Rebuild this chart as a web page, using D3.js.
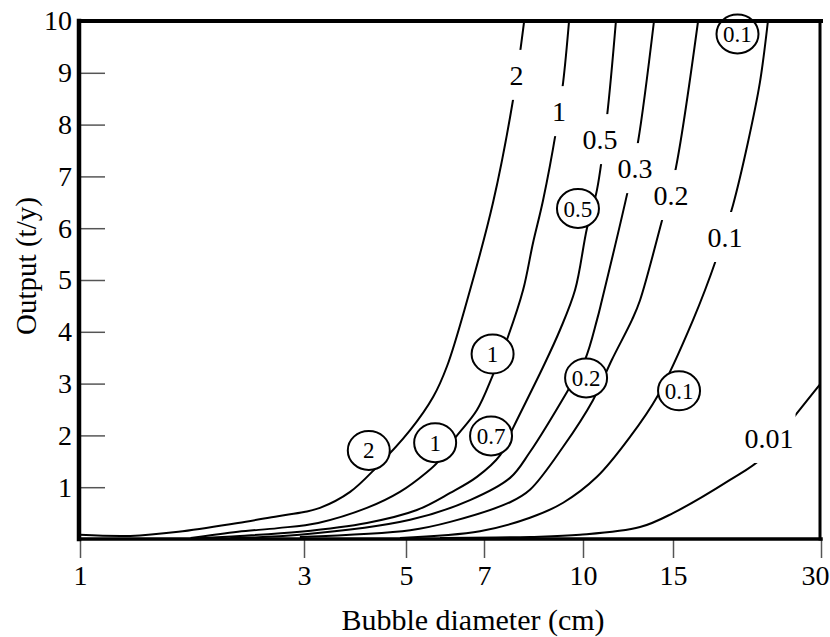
<!DOCTYPE html>
<html><head><meta charset="utf-8">
<script src="https://cdn.jsdelivr.net/npm/d3@7"></script>
<style>
html,body{margin:0;padding:0;background:#fff;}
svg{display:block;font-family:"Liberation Serif","Times New Roman",serif;}
</style></head><body>
<svg id="chart" width="830" height="637"></svg>
<script>
// ---------- data ----------
const xTickValues = [1, 3, 5, 7, 10, 15, 30];
const yTickValues = [1, 2, 3, 4, 5, 6, 7, 8, 9, 10];
const xTitle = "Bubble diameter (cm)";
const yTitle = "Output (t/y)";

const curve_2   = [[1.00,0.08],[1.28,0.06],[1.62,0.14],[2.17,0.31],[2.64,0.44],[3.00,0.52],[3.25,0.60],[3.78,0.91],[4.32,1.39],[5.09,2.10],[5.62,2.74],[5.97,3.34],[6.51,4.61],[7.23,6.49],[7.77,8.47],[8.09,10]];
const curve_1   = [[1.72,0.02],[2.17,0.14],[2.64,0.21],[3.22,0.31],[4.11,0.60],[4.85,0.91],[5.47,1.29],[5.74,1.49],[6.18,1.95],[6.79,2.49],[7.23,3.17],[7.63,3.90],[8.06,4.81],[8.35,5.71],[8.66,6.54],[9.07,7.86],[9.31,8.82],[9.51,10]];
const curve_05  = [[1.80,0.02],[2.19,0.06],[2.94,0.14],[4.11,0.31],[5.24,0.56],[6.05,0.89],[6.79,1.20],[7.42,1.62],[7.77,2.14],[8.66,3.32],[9.20,4.03],[9.72,4.81],[10.18,6.00],[10.65,6.74],[11.14,8.15],[11.60,10]];
const curve_03  = [[2.09,0.02],[2.94,0.08],[5.09,0.37],[6.59,0.75],[7.69,1.18],[8.26,1.68],[9.44,2.84],[10.09,3.46],[10.65,4.23],[10.89,4.61],[12.25,6.74],[12.81,7.66],[13.77,10]];
const curve_02  = [[2.94,0.04],[5.09,0.17],[6.05,0.33],[7.69,0.71],[8.26,0.95],[9.31,1.78],[10.46,2.68],[11.39,3.46],[12.47,4.23],[12.93,4.61],[14.34,6.22],[15.14,7.08],[16.87,10]];
const curve_01  = [[4.85,0.02],[6.88,0.15],[8.26,0.41],[9.31,0.70],[10.65,1.20],[12.36,1.97],[14.03,2.78],[16.48,4.23],[18.35,5.39],[19.87,6.45],[21.31,7.66],[22.54,8.82],[23.40,10]];
const curve_001 = [[5.79,0.02],[8.26,0.04],[9.89,0.08],[12.93,0.23],[15.0,0.50],[19.59,1.14],[22.86,1.58],[26.81,2.43],[30,3.01]];

const curveLabels = ["2", "1", "0.5", "0.3", "0.2", "0.1", "0.01"];
const curveSeries = [curve_2, curve_1, curve_05, curve_03, curve_02, curve_01, curve_001];
// in-line label anchor (data coordinates) for each curve
const labelPos = [[7.87,8.96],[9.17,8.26],[10.80,7.72],[12.64,7.16],[14.87,6.64],[19.14,5.83],[23.52,1.95]];

// circled annotations (data coordinates)
const circleText = ["2", "1", "0.7", "1", "0.5", "0.2", "0.1", "0.1"];
const circlePos  = [[4.15,1.71],[5.67,1.86],[7.18,1.99],[7.22,3.57],[9.82,6.38],[10.14,3.11],[15.43,2.86],[20.29,9.75]];

// ---------- drawing ----------
const svg = d3.select("#chart");
// hand-drawn log axis: piecewise log mapping through the tick positions
const x = d3.scaleLog().domain(xTickValues).range([80, 304, 406, 484, 583, 673, 821]);
const y = d3.scaleLinear().domain([0, 10]).range([539, 21]);

const defs = svg.append("defs");
defs.append("clipPath").attr("id", "plotclip").append("rect")
  .attr("x", x(1)).attr("y", y(10)).attr("width", x(30) - x(1)).attr("height", y(0) - y(10));

// labels first (to measure), then masks
const labelG = svg.append("g").attr("class", "labels");
const labelNodes = curveLabels.map((t, i) =>
  labelG.append("text")
    .attr("x", x(labelPos[i][0])).attr("y", y(labelPos[i][1]))
    .attr("dy", "0.35em").attr("text-anchor", "middle")
    .style("font-size", "28px").text(t));

curveLabels.forEach((t, i) => {
  const bb = labelNodes[i].node().getBBox();
  const cy = y(labelPos[i][1]);
  const m = defs.append("mask").attr("id", "mask" + i)
    .attr("maskUnits", "userSpaceOnUse").attr("x", 0).attr("y", 0).attr("width", 830).attr("height", 637);
  m.append("rect").attr("x", 0).attr("y", 0).attr("width", 830).attr("height", 637).attr("fill", "#fff");
  m.append("rect").attr("x", bb.x - 2).attr("y", cy - 25).attr("width", bb.width + 4).attr("height", 50).attr("fill", "#000");
});

const line = d3.line().x(d => x(d[0])).y(d => y(d[1])).curve(d3.curveCatmullRom.alpha(0.5));
const curvesG = svg.insert("g", ".labels").attr("clip-path", "url(#plotclip)");
curveSeries.forEach((s, i) => {
  curvesG.append("g").attr("mask", `url(#mask${i})`)
    .append("path").attr("d", line(s))
    .attr("fill", "none").attr("stroke", "#000").attr("stroke-width", 2);
});

// circled annotations
const circG = svg.append("g");
circleText.forEach((t, i) => {
  const cx = x(circlePos[i][0]), cy = y(circlePos[i][1]);
  circG.append("ellipse").attr("cx", cx).attr("cy", cy).attr("rx", 21).attr("ry", 19.5)
    .attr("fill", "#fff").attr("stroke", "#000").attr("stroke-width", 2);
  circG.append("text").attr("x", cx).attr("y", cy).attr("dy", "0.35em")
    .attr("text-anchor", "middle").style("font-size", "23px").text(t);
});

// axes
const yAxis = svg.append("g").attr("transform", `translate(${x(1)},0)`)
  .call(d3.axisLeft(y).tickValues(yTickValues).tickSize(-25).tickPadding(8).tickFormat(d3.format("d")));
yAxis.select(".domain").remove();
yAxis.selectAll("line").attr("stroke", "#555").attr("stroke-width", 1.5);
yAxis.selectAll("text").style("font-size", "28px").attr("fill", "#000")
  .style("font-family", "'Liberation Serif','Times New Roman',serif");

const xAxis = svg.append("g").attr("transform", `translate(0,${y(0)})`)
  .call(d3.axisBottom(x).tickValues(xTickValues).tickSize(19).tickPadding(7).tickFormat(d3.format("d")));
xAxis.select(".domain").remove();
xAxis.selectAll("line").attr("stroke", "#555").attr("stroke-width", 1.5);
xAxis.selectAll("text").style("font-size", "28px").attr("fill", "#000")
  .style("font-family", "'Liberation Serif','Times New Roman',serif");
// last label sits flush against the right edge, as in the original
xAxis.selectAll(".tick").filter(d => d === 30).select("text")
  .attr("text-anchor", "end").attr("x", 8);

// frame
const frame = svg.append("g").attr("stroke", "#000").attr("stroke-linecap", "square");
frame.append("line").attr("x1", x(1) - 1).attr("x2", x(1) - 1).attr("y1", y(10)).attr("y2", y(0)).attr("stroke-width", 4.5);
frame.append("line").attr("x1", x(1)).attr("x2", x(30)).attr("y1", y(10)).attr("y2", y(10)).attr("stroke-width", 4);
frame.append("line").attr("x1", x(30) - 1).attr("x2", x(30) - 1).attr("y1", y(10)).attr("y2", y(0)).attr("stroke-width", 3);
frame.append("line").attr("x1", x(1)).attr("x2", x(30)).attr("y1", y(0)).attr("y2", y(0)).attr("stroke-width", 3.5);

// titles
svg.append("text").attr("x", 473).attr("y", 630).attr("text-anchor", "middle")
  .style("font-size", "30px").text(xTitle);
svg.append("text").attr("transform", "translate(36,266) rotate(-90)").attr("text-anchor", "middle")
  .style("font-size", "29px").text(yTitle);
</script>
</body></html>
